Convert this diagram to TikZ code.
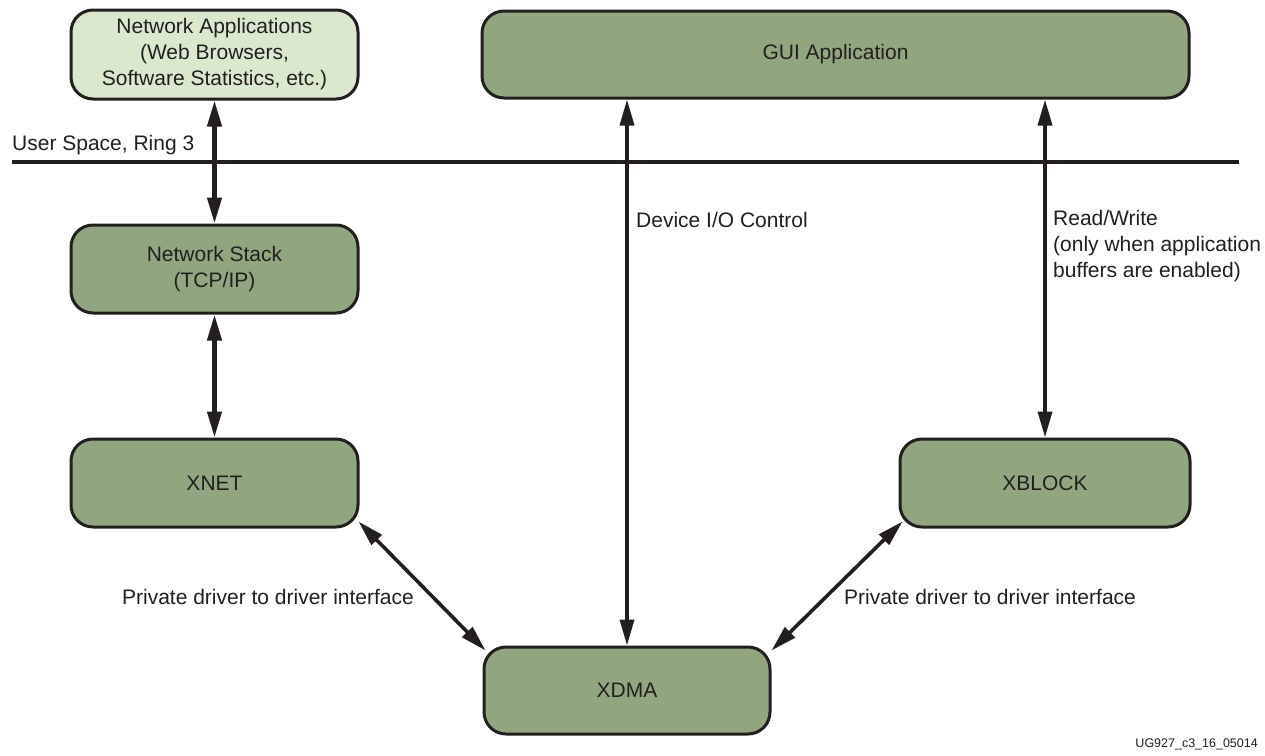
\documentclass[tikz,border=0pt]{standalone}
\usepackage{fontspec}
\setmainfont{Liberation Sans}
\usetikzlibrary{arrows.meta}
\definecolor{boxgreen}{HTML}{91A67F}
\definecolor{lightgreen}{HTML}{DAE8CD}
\definecolor{ink}{HTML}{231F20}
\tikzset{
  box/.style={draw=ink, line width=3pt, fill=boxgreen, rounded corners=22pt,
    minimum width=287pt, minimum height=88pt, inner sep=0pt, align=center,
    text=ink, font=\fontsize{21}{26}\selectfont},
  lbl/.style={text=ink, inner sep=0pt, font=\fontsize{21}{26}\selectfont, align=left},
  arr/.style={draw=ink, line width=3.6pt,
    {Triangle[length=26pt,width=14pt]}-{Triangle[length=26pt,width=14pt]}},
  tick/.style={text=ink, inner sep=0pt, font=\fontsize{12.5}{14}\selectfont}
}
\begin{document}
\begin{tikzpicture}[x=1pt,y=-1pt]
\useasboundingbox[fill=white] (0,0) rectangle (1265,755);

\node[box, fill=lightgreen, minimum height=89pt] (netapp) at (214.5,54.5)
  {Network Applications\\(Web Browsers,\\Software Statistics, etc.)};
\node[box, minimum width=707pt, minimum height=87pt] (gui) at (835.5,54.5) {GUI Application};
\node[box] (netstack) at (214.5,269) {Network Stack\\(TCP/IP)};
\node[box] (xnet) at (214.5,483) {XNET};
\node[box, minimum width=290pt] (xblock) at (1045,483) {XBLOCK};
\node[box, minimum width=286pt, minimum height=87pt] (xdma) at (627,690.5) {XDMA};

% user space boundary
\coordinate (ls) at (12,162);
\coordinate (le) at (1239,162);
\draw[draw=ink, line width=4pt] (ls) -- (le);
\node[lbl, anchor=south west] (uspace) at (12,155) {User Space, Ring 3};

% connectors
\draw[arr, line width=4.4pt] (netapp.south) -- (netstack.north);
\draw[arr, line width=4.4pt] (netstack.south) -- (xnet.north);
\draw[arr] (xdma.north |- gui.south) -- (xdma.north);
\draw[arr] (xblock.north |- gui.south) -- (xblock.north);
\draw[arr] ([xshift=-1pt,yshift=7pt]xnet.south east) -- ([xshift=3pt,yshift=-5pt]xdma.north west);
\draw[arr] ([xshift=4pt,yshift=7pt]xblock.south west) -- ([xshift=0pt,yshift=-5pt]xdma.north east);

% labels
\node[lbl, anchor=west] (devlbl) at (636,220) {Device I/O Control};
\node[lbl, anchor=west] (rwlbl) at (1053,246) {Read/Write\\(only when application\\buffers are enabled)};
\node[lbl] (plbl) at (268,597) {Private driver to driver interface};
\node[lbl] (prlbl) at (990,597) {Private driver to driver interface};

\node[tick, anchor=east] (fig) at (1258,744) {UG927\_c3\_16\_05014};
\end{tikzpicture}
\end{document}
